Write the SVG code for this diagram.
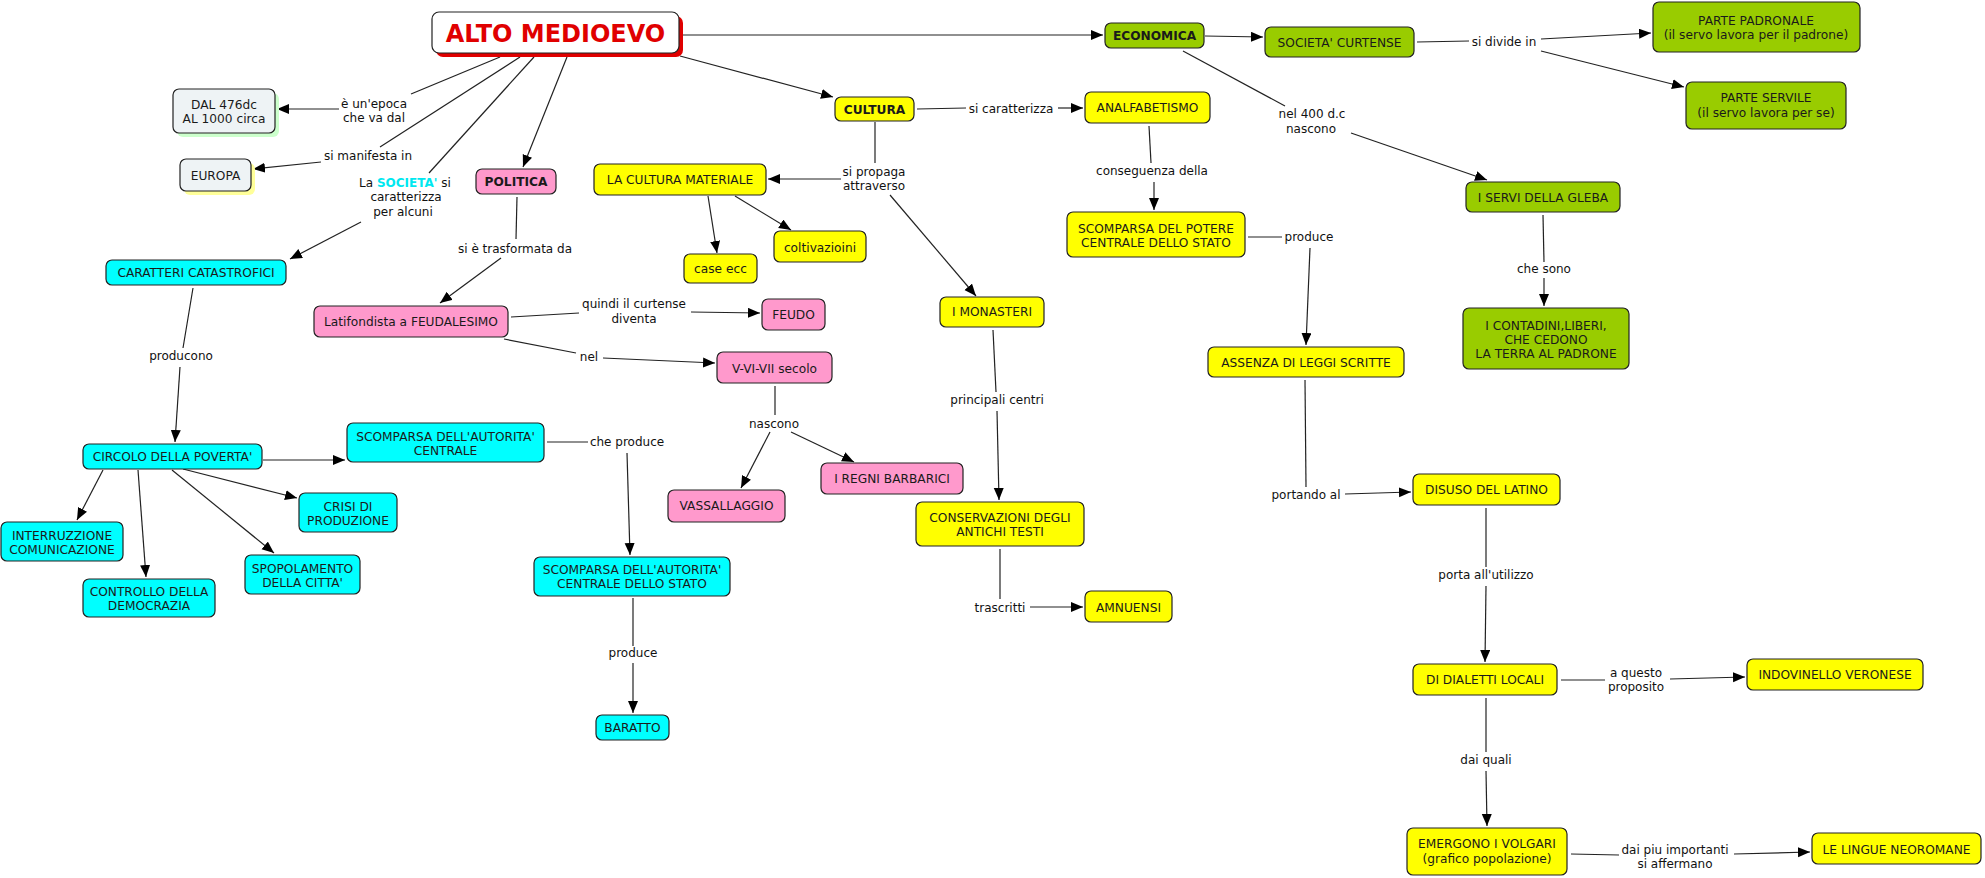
<svg xmlns="http://www.w3.org/2000/svg" width="1985" height="878" viewBox="0 0 1985 878">
<defs>
<marker id="ah" markerWidth="13" markerHeight="11" refX="12" refY="5" orient="auto" markerUnits="userSpaceOnUse"><path d="M0,0 L12,5 L0,10 z" fill="#000"/></marker>
<style>
.n rect{stroke:#222;stroke-width:1.2}
rect.c{fill:#00FFFF} rect.y{fill:#FFFF00} rect.g{fill:#99CC00} rect.p{fill:#FF99CC} rect.w{fill:#EEF3F5}
text{font-family:"DejaVu Sans",Verdana,sans-serif;font-size:12.2px;fill:#1a1a1a;text-anchor:middle}
.b{font-weight:bold}
.l{font-size:12px;fill:#111}
#connectors line{stroke:#222;stroke-width:1.2;fill:none}
.a{marker-end:url(#ah)}
</style>
</defs>
<rect width="1985" height="878" fill="#fff"/>
<g id="connectors">
<line x1="500" y1="57" x2="411" y2="94"/><line class="a" x1="339" y1="109" x2="277" y2="109"/>
<line x1="520" y1="57" x2="380" y2="147"/><line class="a" x1="321" y1="162" x2="253" y2="169"/>
<line x1="534" y1="57" x2="429" y2="173"/><line class="a" x1="361" y1="222" x2="290" y2="259"/>
<line class="a" x1="567" y1="57" x2="523" y2="167"/>
<line class="a" x1="683" y1="35" x2="1103" y2="35"/>
<line class="a" x1="680" y1="56" x2="833" y2="97"/>
<line x1="917" y1="109" x2="966" y2="108"/><line class="a" x1="1058" y1="108" x2="1083" y2="108"/>
<line x1="875" y1="122" x2="875" y2="163"/><line class="a" x1="841" y1="179" x2="768" y2="179"/><line class="a" x1="890" y1="195" x2="976" y2="296"/>
<line class="a" x1="708" y1="196" x2="717" y2="253"/>
<line class="a" x1="735" y1="196" x2="791" y2="230"/>
<line x1="1149" y1="126" x2="1151" y2="163"/><line class="a" x1="1154" y1="182" x2="1154" y2="210"/>
<line x1="1248" y1="237" x2="1282" y2="237"/><line class="a" x1="1310" y1="248" x2="1306" y2="345"/>
<line x1="1305" y1="380" x2="1306" y2="487"/><line class="a" x1="1345" y1="494" x2="1411" y2="492"/>
<line x1="1486" y1="508" x2="1486" y2="567"/><line class="a" x1="1486" y1="586" x2="1485" y2="662"/>
<line x1="1561" y1="680" x2="1605" y2="680"/><line class="a" x1="1670" y1="679" x2="1745" y2="677"/>
<line x1="1486" y1="698" x2="1486" y2="752"/><line class="a" x1="1486" y1="771" x2="1487" y2="826"/>
<line x1="1571" y1="854" x2="1619" y2="855"/><line class="a" x1="1734" y1="854" x2="1810" y2="852"/>
<line class="a" x1="1205" y1="36" x2="1263" y2="37"/>
<line x1="1183" y1="51" x2="1285" y2="106"/><line class="a" x1="1351" y1="133" x2="1487" y2="180"/>
<line x1="1417" y1="42" x2="1469" y2="41"/><line class="a" x1="1541" y1="39" x2="1651" y2="33"/><line class="a" x1="1541" y1="51" x2="1684" y2="87"/>
<line x1="1543" y1="215" x2="1544" y2="262"/><line class="a" x1="1544" y1="278" x2="1544" y2="306"/>
<line x1="517" y1="197" x2="516" y2="239"/><line class="a" x1="501" y1="258" x2="440" y2="303"/>
<line x1="511" y1="317" x2="579" y2="313"/><line class="a" x1="691" y1="312" x2="760" y2="313"/>
<line x1="504" y1="339" x2="576" y2="353"/><line class="a" x1="603" y1="358" x2="715" y2="363"/>
<line x1="775" y1="386" x2="775" y2="415"/><line class="a" x1="770" y1="432" x2="741" y2="488"/><line class="a" x1="791" y1="432" x2="854" y2="462"/>
<line x1="993" y1="330" x2="996" y2="392"/><line class="a" x1="997" y1="411" x2="999" y2="500"/>
<line x1="1000" y1="549" x2="1000" y2="599"/><line class="a" x1="1030" y1="607" x2="1083" y2="607"/>
<line x1="193" y1="288" x2="183" y2="348"/><line class="a" x1="180" y1="367" x2="175" y2="442"/>
<line class="a" x1="263" y1="460" x2="345" y2="460"/>
<line class="a" x1="103" y1="470" x2="77" y2="520"/>
<line class="a" x1="138" y1="470" x2="146" y2="577"/>
<line class="a" x1="172" y1="470" x2="274" y2="553"/>
<line class="a" x1="183" y1="469" x2="297" y2="498"/>
<line x1="547" y1="442" x2="588" y2="442"/><line class="a" x1="627" y1="453" x2="630" y2="555"/>
<line x1="633" y1="598" x2="633" y2="646"/><line class="a" x1="633" y1="663" x2="633" y2="713"/>
<g class="l">
<text class="l" x="374" y="107.5">è un'epoca</text><text class="l" x="374" y="121.5">che va dal</text>
<text class="l" x="368" y="159.5">si manifesta in</text>
<text class="l" x="405" y="186.5">La <tspan class="b" style="fill:#00E8F0">SOCIETA'</tspan> si</text>
<text class="l" x="406" y="201">caratterizza</text><text class="l" x="403" y="215.5">per alcuni</text>
<text class="l" x="515" y="252.5">si è trasformata da</text>
<text class="l" x="634" y="307.5">quindi il curtense</text><text class="l" x="634" y="322.5">diventa</text>
<text class="l" x="589" y="360.5">nel</text>
<text class="l" x="181" y="359.5">producono</text>
<text class="l" x="627" y="445.5">che produce</text>
<text class="l" x="633" y="656.5">produce</text>
<text class="l" x="774" y="427.5">nascono</text>
<text class="l" x="1011" y="112.5">si caratterizza</text>
<text class="l" x="874" y="175.5">si propaga</text><text class="l" x="874" y="189.5">attraverso</text>
<text class="l" x="997" y="403.5">principali centri</text>
<text class="l" x="1000" y="611.5">trascritti</text>
<text class="l" x="1152" y="174.5">conseguenza della</text>
<text class="l" x="1309" y="240.5">produce</text>
<text class="l" x="1306" y="498.5">portando al</text>
<text class="l" x="1486" y="578.5">porta all'utilizzo</text>
<text class="l" x="1636" y="676.5">a questo</text><text class="l" x="1636" y="690.5">proposito</text>
<text class="l" x="1486" y="763.5">dai quali</text>
<text class="l" x="1675" y="853.5">dai piu importanti</text><text class="l" x="1675" y="867.5">si affermano</text>
<text class="l" x="1312" y="117.5">nel 400 d.c</text><text class="l" x="1311" y="132.5">nascono</text>
<text class="l" x="1504" y="45.5">si divide in</text>
<text class="l" x="1544" y="272.5">che sono</text>
</g>
</g>
<g id="n1" class="n"><rect x="436" y="16" width="247" height="41" rx="7" fill="#E00000" style="stroke:none"/><rect x="432" y="12" width="247" height="41" rx="7" fill="#fff"/><text x="555.5" y="41.5" class="b" style="font-size:24px;fill:#E00000">ALTO MEDIOEVO</text></g>
<g id="n2" class="n"><rect x="177" y="93" width="102" height="44" rx="6" fill="#CCFFCC" style="stroke:none"/><rect class="w" x="173" y="89" width="102" height="44" rx="6"/><text x="224" y="108.5">DAL 476dc</text><text x="224" y="122.5">AL 1000 circa</text></g>
<g id="n3" class="n"><rect x="184" y="163" width="71" height="32" rx="6" fill="#FFFF99" style="stroke:none"/><rect class="w" x="180" y="159" width="71" height="32" rx="6"/><text x="215.5" y="179.5">EUROPA</text></g>
<g id="n4" class="n"><rect class="p" x="476" y="169" width="80" height="25" rx="6"/><text class="b" x="516" y="186">POLITICA</text></g>
<g id="n5" class="n"><rect class="y" x="594" y="164" width="172" height="31" rx="6"/><text x="680" y="184">LA CULTURA MATERIALE</text></g>
<g id="n6" class="n"><rect class="y" x="835" y="97" width="79" height="24" rx="6"/><text class="b" x="874.5" y="113.5">CULTURA</text></g>
<g id="n7" class="n"><rect class="g" x="1105" y="23" width="99" height="25" rx="6"/><text class="b" x="1154.5" y="40">ECONOMICA</text></g>
<g id="n8" class="n"><rect class="g" x="1265" y="27" width="149" height="30" rx="6"/><text x="1339.5" y="46.5">SOCIETA' CURTENSE</text></g>
<g id="n9" class="n"><rect class="g" x="1653" y="2" width="207" height="50" rx="6"/><text x="1756" y="24.5">PARTE PADRONALE</text><text x="1756" y="38.5">(il servo lavora per il padrone)</text></g>
<g id="n10" class="n"><rect class="g" x="1686" y="82" width="160" height="47" rx="6"/><text x="1766" y="102">PARTE SERVILE</text><text x="1766" y="116.5">(il servo lavora per se)</text></g>
<g id="n11" class="n"><rect class="g" x="1466" y="182" width="154" height="30" rx="6"/><text x="1543" y="201.5">I SERVI DELLA GLEBA</text></g>
<g id="n12" class="n"><rect class="g" x="1463" y="308" width="166" height="61" rx="6"/><text x="1546" y="329.5">I CONTADINI,LIBERI,</text><text x="1546" y="343.5">CHE CEDONO</text><text x="1546" y="357.5">LA TERRA AL PADRONE</text></g>
<g id="n13" class="n"><rect class="y" x="1085" y="92" width="125" height="31" rx="6"/><text x="1147.5" y="112">ANALFABETISMO</text></g>
<g id="n14" class="n"><rect class="y" x="1067" y="212" width="178" height="45" rx="6"/><text x="1156" y="232.5">SCOMPARSA DEL POTERE</text><text x="1156" y="246.5">CENTRALE DELLO STATO</text></g>
<g id="n15" class="n"><rect class="y" x="1208" y="347" width="196" height="30" rx="6"/><text x="1306" y="366.5">ASSENZA DI LEGGI SCRITTE</text></g>
<g id="n16" class="n"><rect class="y" x="1413" y="474" width="147" height="31" rx="6"/><text x="1486.5" y="494">DISUSO DEL LATINO</text></g>
<g id="n17" class="n"><rect class="y" x="1413" y="664" width="144" height="31" rx="6"/><text x="1485" y="684">DI DIALETTI LOCALI</text></g>
<g id="n18" class="n"><rect class="y" x="1747" y="659" width="176" height="31" rx="6"/><text x="1835" y="679">INDOVINELLO VERONESE</text></g>
<g id="n19" class="n"><rect class="y" x="1407" y="828" width="160" height="47" rx="6"/><text x="1487" y="847.5">EMERGONO I VOLGARI</text><text x="1487" y="862.5">(grafico popolazione)</text></g>
<g id="n20" class="n"><rect class="y" x="1812" y="833" width="169" height="31" rx="6"/><text x="1896.5" y="853.5">LE LINGUE NEOROMANE</text></g>
<g id="n21" class="n"><rect class="c" x="106" y="260" width="180" height="25" rx="6"/><text x="196" y="277">CARATTERI CATASTROFICI</text></g>
<g id="n22" class="n"><rect class="p" x="314" y="306" width="194" height="31" rx="6"/><text x="411" y="325.5">Latifondista a FEUDALESIMO</text></g>
<g id="n23" class="n"><rect class="c" x="83" y="444" width="179" height="25" rx="6"/><text x="172.5" y="461">CIRCOLO DELLA POVERTA'</text></g>
<g id="n24" class="n"><rect class="c" x="347" y="423" width="197" height="39" rx="6"/><text x="445.5" y="440.5">SCOMPARSA DELL'AUTORITA'</text><text x="445.5" y="454.5">CENTRALE</text></g>
<g id="n25" class="n"><rect class="c" x="299" y="493" width="98" height="39" rx="6"/><text x="348" y="510.5">CRISI DI</text><text x="348" y="524.5">PRODUZIONE</text></g>
<g id="n26" class="n"><rect class="c" x="1" y="522" width="122" height="39" rx="6"/><text x="62" y="539.5">INTERRUZZIONE</text><text x="62" y="553.5">COMUNICAZIONE</text></g>
<g id="n27" class="n"><rect class="c" x="83" y="579" width="132" height="38" rx="6"/><text x="149" y="595.5">CONTROLLO DELLA</text><text x="149" y="609.5">DEMOCRAZIA</text></g>
<g id="n28" class="n"><rect class="c" x="245" y="555" width="115" height="39" rx="6"/><text x="302.5" y="572.5">SPOPOLAMENTO</text><text x="302.5" y="586.5">DELLA CITTA'</text></g>
<g id="n29" class="n"><rect class="c" x="534" y="557" width="196" height="39" rx="6"/><text x="632" y="573.5">SCOMPARSA DELL'AUTORITA'</text><text x="632" y="588">CENTRALE DELLO STATO</text></g>
<g id="n30" class="n"><rect class="c" x="596" y="715" width="73" height="25" rx="6"/><text x="632.5" y="732">BARATTO</text></g>
<g id="n31" class="n"><rect class="p" x="668" y="490" width="117" height="32" rx="6"/><text x="726.5" y="510">VASSALLAGGIO</text></g>
<g id="n32" class="n"><rect class="p" x="821" y="463" width="142" height="31" rx="6"/><text x="892" y="483">I REGNI BARBARICI</text></g>
<g id="n33" class="n"><rect class="p" x="717" y="352" width="115" height="31" rx="6"/><text x="774.5" y="372.5">V-VI-VII secolo</text></g>
<g id="n34" class="n"><rect class="p" x="762" y="299" width="63" height="31" rx="6"/><text x="793.5" y="319">FEUDO</text></g>
<g id="n35" class="n"><rect class="y" x="684" y="254" width="73" height="29" rx="6"/><text x="720.5" y="273">case ecc</text></g>
<g id="n36" class="n"><rect class="y" x="774" y="231" width="92" height="31" rx="6"/><text x="820" y="251.5">coltivazioini</text></g>
<g id="n37" class="n"><rect class="y" x="940" y="297" width="104" height="30" rx="6"/><text x="992" y="316">I MONASTERI</text></g>
<g id="n38" class="n"><rect class="y" x="916" y="502" width="168" height="44" rx="6"/><text x="1000" y="521.5">CONSERVAZIONI DEGLI</text><text x="1000" y="535.5">ANTICHI TESTI</text></g>
<g id="n39" class="n"><rect class="y" x="1085" y="591" width="87" height="31" rx="6"/><text x="1128.5" y="611.5">AMNUENSI</text></g>
</svg>
